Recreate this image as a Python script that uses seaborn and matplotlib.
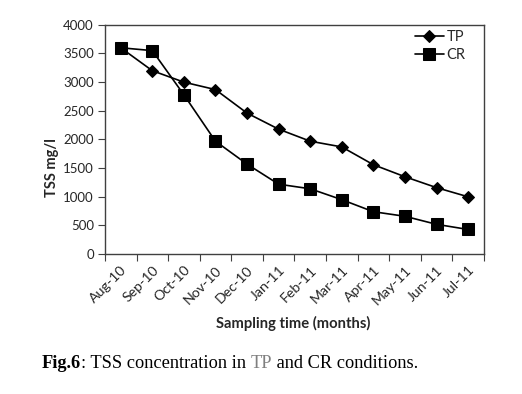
import matplotlib
matplotlib.use("Agg")
import matplotlib.pyplot as plt
import seaborn as sns
import pandas as pd
import numpy as np

months = ["Aug-10", "Sep-10", "Oct-10", "Nov-10", "Dec-10", "Jan-11",
          "Feb-11", "Mar-11", "Apr-11", "May-11", "Jun-11", "Jul-11"]
tp = [3600, 3200, 3000, 2870, 2460, 2180, 1970, 1870, 1560, 1350, 1160, 1000]
cr = [3600, 3550, 2780, 1970, 1570, 1220, 1140, 950, 740, 660, 520, 430]
y_ticks = [0, 500, 1000, 1500, 2000, 2500, 3000, 3500, 4000]

sns.set_theme(style="white")
plt.rcParams['font.family'] = ['Lato', 'DejaVu Sans']

df = pd.DataFrame({
    "pos": list(range(len(months))) * 2,
    "TSS": tp + cr,
    "series": ["TP"] * len(tp) + ["CR"] * len(cr),
})

fig = plt.figure(figsize=(5.22, 3.94), dpi=100)
ax = fig.add_axes([0.201, 0.355, 0.726, 0.582])

sns.lineplot(data=df[df.series == "TP"], x="pos", y="TSS", ax=ax, color="black",
             marker="D", markersize=6, linewidth=1.2, label="TP",
             markeredgecolor="black", markerfacecolor="black")
sns.lineplot(data=df[df.series == "CR"], x="pos", y="TSS", ax=ax, color="black",
             marker="s", markersize=8.5, linewidth=1.2, label="CR",
             markeredgecolor="black", markerfacecolor="black")

ax.set_xlim(-0.5, len(months) - 0.5)
ax.set_ylim(0, 4000)
ax.set_yticks(y_ticks)
ax.set_yticklabels([str(v) for v in y_ticks], fontsize=9.5)
ax.set_xticks(range(len(months)))
ax.set_xticklabels(months, rotation=45, ha="right", rotation_mode="anchor", fontsize=10.2)
ax.set_xticks(np.arange(-0.5, len(months), 1.0), minor=True)
ax.tick_params(axis="x", which="major", length=0, pad=7)
ax.tick_params(axis="x", which="minor", length=5, width=0.8, color="#404040", direction="out", bottom=True)
ax.tick_params(axis="y", which="major", length=5, width=0.8, color="#404040", direction="out", left=True, pad=3)

for s in ax.spines.values():
    s.set_visible(True)
    s.set_color("#404040")
    s.set_linewidth(1.0)

ax.set_xlabel("")
ax.set_ylabel("")
fig.text(0.10, 0.575, "TSS mg/l", rotation=90, fontsize=10.5, fontweight="bold",
         ha="center", va="center")
fig.text(0.561, 0.18, "Sampling time (months)", fontsize=10.6, fontweight="bold",
         ha="center", va="center")

leg = ax.legend(loc="upper right", bbox_to_anchor=(0.975, 1.015), frameon=False,
                fontsize=10.5, handlelength=2.0, handletextpad=0.2,
                labelspacing=0.25, borderaxespad=0.2)

# caption
fig.canvas.draw()
renderer = fig.canvas.get_renderer()
parts = [("Fig.6", "bold", "black"), (": TSS concentration in ", "normal", "black"),
         ("TP", "normal", "#7f7f7f"), (" and CR conditions.", "normal", "black")]
x = 42 / 522
ycap = 1 - 363 / 394
for txt, w, c in parts:
    t = fig.text(x, ycap, txt, fontsize=13.2, fontweight=w, color=c,
                 family=["Liberation Serif", "DejaVu Serif"], ha="left", va="center")
    bb = t.get_window_extent(renderer=renderer)
    x += bb.width / fig.bbox.width

fig.savefig("out.png", dpi=100)
